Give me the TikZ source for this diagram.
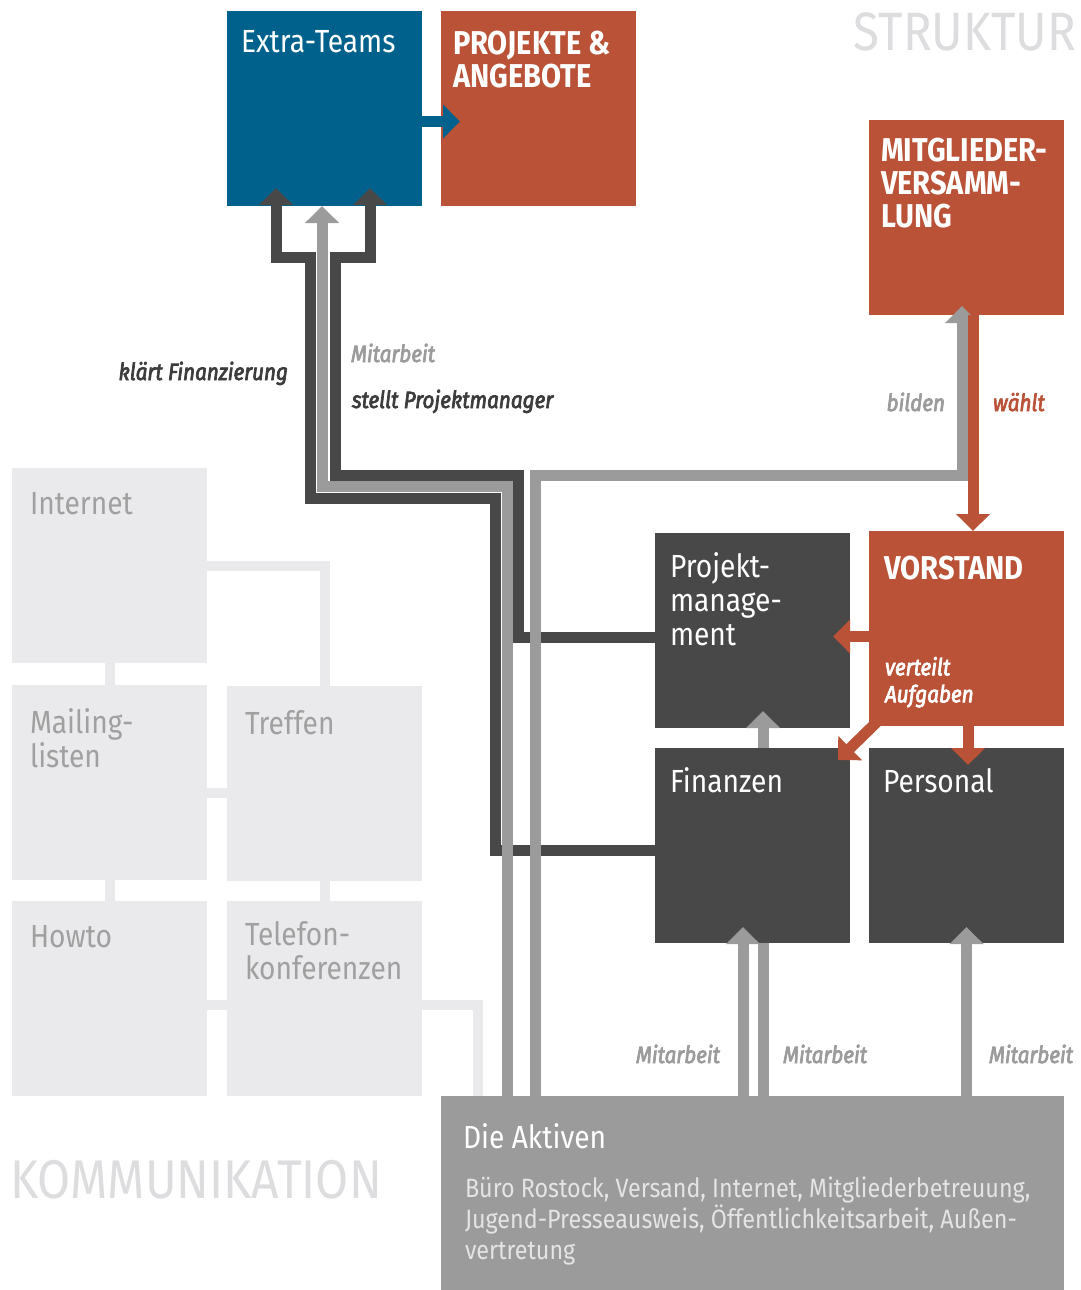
\documentclass[tikz,border=0pt]{standalone}
\usepackage{fontspec}
\setmainfont{Fira Sans}[FakeStretch=0.88]
\newfontfamily\lblfont{Fira Sans}[FakeStretch=0.88,FakeBold=3]
\usetikzlibrary{arrows.meta}
\definecolor{teamblue}{RGB}{0,98,140}
\definecolor{rust}{RGB}{185,82,55}
\definecolor{coal}{RGB}{72,72,72}
\definecolor{ash}{RGB}{155,155,155}
\definecolor{mist}{RGB}{234,234,236}
\definecolor{mistext}{RGB}{160,160,160}
\definecolor{ghost}{RGB}{221,221,223}
\definecolor{pale}{RGB}{228,228,228}
\definecolor{inkgrey}{RGB}{60,60,60}

\begin{document}
\begin{tikzpicture}[x=1pt,y=-1pt,
    every node/.append style={inner sep=0pt,outer sep=0pt},
    box/.style={anchor=north west,minimum width=195pt,minimum height=195pt},
    ttl/.style={anchor=north west,align=left,text=white,inner xsep=14pt,inner ysep=19pt,font=\fontsize{32}{34}\selectfont},
    hdl/.style={ttl,font=\fontsize{33}{33}\selectfont\bfseries},
    ln/.style={line width=11pt,-{Triangle[width=33pt,length=17pt]}},
    lbl/.style={font=\lblfont\fontsize{23.5}{27}\selectfont\itshape}]
  \tikzstyle{com} = [box,fill=mist]
  \tikzstyle{comttl} = [ttl,text=mistext,inner xsep=18pt,inner ysep=24pt]
  \tikzstyle{lc} = [line width=10pt,draw=mist]
  \useasboundingbox[fill=white] (0,0) rectangle (1081,1290);

  \node (in) [com,label={[comttl]north west:Internet}] at (12,468) {};
  \node (ml) [com,label={[comttl]north west:{Mailing-\\listen}}] at (12,685) {};
  \node (tr) [com,label={[comttl]north west:Treffen}] at (227,686) {};
  \node (ho) [com,label={[comttl]north west:Howto}] at (12,901) {};
  \node (tk) [com,label={[comttl,inner ysep=20pt]north west:{Telefon-\\konferenzen}}] at (227,901) {};

  \node (et) [box,fill=teamblue,label={[ttl]north west:Extra-Teams}] at (227,11) {};
  \node (pa) [box,fill=rust,label={[hdl,inner xsep=12pt,inner ysep=20pt]north west:{PROJEKTE \&\\ANGEBOTE}}] at (441,11) {};
  \node (mv) [box,fill=rust,label={[hdl,inner xsep=12pt,inner ysep=18pt]north west:{MITGLIEDER-\\VERSAMM-\\LUNG}}] at (869,120) {};
  \node (vs) [box,fill=rust,label={[hdl,inner xsep=15pt,inner ysep=25pt]north west:VORSTAND}] at (869,531) {};
  \node (pm) [box,fill=coal,label={[ttl,inner xsep=15pt,inner ysep=20pt]north west:{Projekt-\\manage-\\ment}}] at (655,533) {};
  \node (pe) [box,fill=coal,label={[ttl,inner ysep=20pt]north west:Personal}] at (869,748) {};
  \node (ak) [box,fill=ash,minimum width=623pt,minimum height=194pt,
    label={[ttl,inner xsep=22pt,inner ysep=28pt]north west:{Die Aktiven}},
    label={[ttl,text=pale,inner xsep=24pt,inner ysep=81pt,font=\fontsize{26.5}{31}\selectfont]north west:{B\"uro Rostock, Versand, Internet, Mitgliederbetreuung,\\Jugend-Presseausweis, \"Offentlichkeitsarbeit, Au\ss en-\\vertretung}}] at (441,1096) {};

  \node (st) [anchor=north east,text=ghost,font=\fontsize{54}{54}\selectfont] at (1076,13) {STRUKTUR};
  \node (ko) [anchor=base west,text=ghost,font=\fontsize{54.5}{54.5}\selectfont] at (10,1198) {KOMMUNIKATION};

  \draw[lc] (in.east) -| (tr.north);
  \draw[lc] (in.south) -- (ml.north);
  \draw[lc] (ml.south) -- (ho.north);
  \draw[lc] (tr.south) -- (tk.north);
  \coordinate (mle) at ([yshift=-10pt]ml.east);
  \draw[lc] (mle) -- (mle -| tr.west);
  \coordinate (hoe) at ([yshift=-6pt]ho.east);
  \draw[lc] (hoe) -- (hoe -| tk.west);
  \coordinate (tke) at ([yshift=-6pt]tk.east);
  \draw[lc] (tke) -| ([xshift=-274.5pt]ak.north);

  \coordinate (pms) at ([xshift=10.5pt]pm.south);
  \draw[ln,draw=ash,shorten >=-17pt] (pms |- ak.north) -- (pms);
  \node (fi) [box,fill=coal,label={[ttl,inner xsep=15pt,inner ysep=20pt]north west:Finanzen}] at (655,748) {};

  \coordinate (pmw) at ([yshift=-7pt]pm.west);
  \coordinate (fiw) at ([yshift=-4.5pt]fi.west);
  \draw[ln,draw=coal,shorten >=-18pt] (pmw) -| (518,475) -| (335,257) -| ([xshift=45.5pt]et.south);
  \draw[ln,draw=coal,shorten >=-18pt] (fiw) -| (495,498) -| (310,257) -| ([xshift=-48.5pt]et.south);
  \draw[ln,draw=ash] ([xshift=-245.5pt]ak.north) |- (322,486) -- ([xshift=-2.5pt]et.south);
  \draw[ln,draw=ash,shorten >=-9pt] ([xshift=-217.5pt]ak.north) |- (962,475) -- ([xshift=-4.5pt]mv.south);

  \coordinate (ete) at ([yshift=-13pt]et.east);
  \draw[ln,draw=teamblue,shorten >=-19pt] (ete) -- (ete -| pa.west);
  \coordinate (wt) at ([xshift=6.5pt]mv.south);
  \draw[ln,draw=rust] (wt) -- (wt |- vs.north);
  \coordinate (vsw) at ([yshift=-8pt]vs.west);
  \draw[ln,draw=rust,shorten >=-17pt] (vsw) -- (vsw -| pm.east);
  \draw[ln,draw=rust] ([shift={(11pt,7pt)}]vs.south west) -- ([shift={(-12pt,-12pt)}]fi.north east);
  \coordinate (vss) at ([xshift=1.5pt]vs.south);
  \draw[ln,draw=rust,shorten >=-17pt] (vss) -- (vss |- pe.north);

  \coordinate (fis) at ([xshift=-9.5pt]fi.south);
  \draw[ln,draw=ash,shorten >=-16pt] (fis |- ak.north) -- (fis);
  \draw[ln,draw=ash,shorten >=-16pt] (pe.south |- ak.north) -- (pe.south);

  \node (kf) [lbl,text=inkgrey,anchor=base east] at (288,380) {klärt Finanzierung};
  \node (mb) [lbl,text=ash,anchor=base west] at (351,362) {Mitarbeit};
  \node (sp) [lbl,text=inkgrey,anchor=base west] at (352,408) {stellt Projektmanager};
  \node (bi) [lbl,text=ash,anchor=base east] at (945,411) {bilden};
  \node (wa) [lbl,text=rust,anchor=base west] at (993,411) {wählt};
  \node (va) [lbl,text=white,anchor=north west,align=left] at (885,657) {verteilt\\Aufgaben};
  \node (m1) [lbl,text=ash,anchor=base east] at (720,1063) {Mitarbeit};
  \node (m2) [lbl,text=ash,anchor=base west] at (783,1063) {Mitarbeit};
  \node (m3) [lbl,text=ash,anchor=base west] at (989,1063) {Mitarbeit};
\end{tikzpicture}
\end{document}
